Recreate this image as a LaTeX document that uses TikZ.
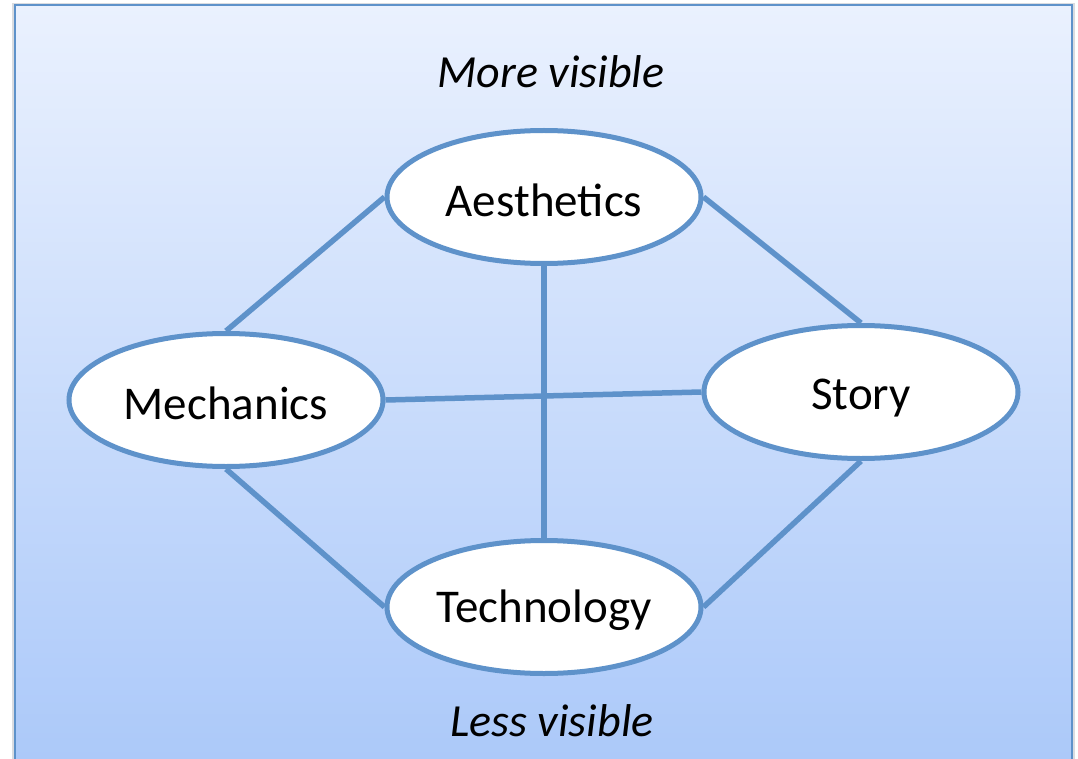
\documentclass[tikz,border=0pt]{standalone}
\usepackage{fontspec}
\setmainfont{Carlito}
\usetikzlibrary{shapes.geometric}
\definecolor{edgeblue}{HTML}{5E92CA}
\definecolor{bgtop}{HTML}{EAF1FE}
\definecolor{bgbot}{HTML}{AAC8F9}
\definecolor{framegray}{HTML}{DADCE0}
% shift a label down without changing its box size
\newcommand{\lowered}[2]{\raisebox{-#1pt}[\height][\depth]{#2}}
\begin{document}
\begin{tikzpicture}[x=1pt,y=-1pt,
  topic/.style={ellipse, draw=edgeblue, line width=5pt, fill=white,
    minimum width=314pt, minimum height=133pt, inner sep=0pt,
    font=\fontsize{47}{56}\selectfont},
  link/.style={draw=edgeblue, line width=5.5pt},
  caption/.style={font=\fontsize{46}{55}\selectfont\itshape, inner sep=0pt}]
\useasboundingbox (0,0) rectangle (1078,759);
% panel with soft shadow and vertical gradient
\fill[framegray] (12,3) rectangle (1075,780);
\shade[top color=bgtop, bottom color=bgbot, draw=edgeblue, line width=2.5pt]
  (15,5) rectangle (1072,780);

% the four topics
\node[topic] (aes)  at (544,197) {\lowered{3}{Aesthetics}};
\node[topic] (mech) at (226,400) {\lowered{3}{Mechanics}};
\node[topic] (story) at (861,392) {\lowered{6}{Story}};
\node[topic] (tech) at (544,607) {\lowered{3}{Technology}};

% captions
\node[caption] (more) at (551,72) {More visible};
\node[caption] (less) at (552,721) {Less visible};

% connections
\draw[link] (aes.west) -- (mech.north);
\draw[link] (aes.east) -- (story.north);
\draw[link] (aes.south) -- (tech.north);
\draw[link] (mech.east) -- (story.west);
\draw[link] (mech.south) -- (tech.west);
\draw[link] (story.south) -- (tech.east);
\end{tikzpicture}
\end{document}
